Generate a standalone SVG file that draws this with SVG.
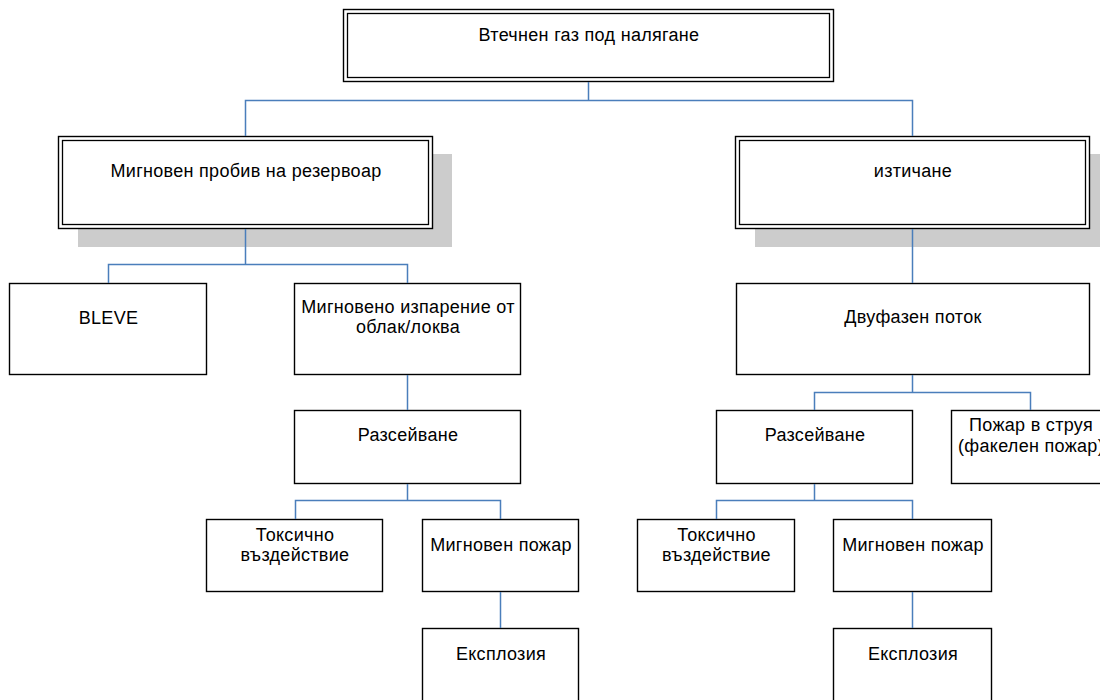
<svg xmlns="http://www.w3.org/2000/svg" width="1100" height="700" viewBox="0 0 1100 700">
<style>
.box{fill:#ffffff;stroke:#000000;stroke-width:1.4}
.dbl{fill:none;stroke:#000000;stroke-width:1.3}
.shadow{fill:#cccccc;stroke:none}
.lbl{font-family:"Liberation Sans",Arial,sans-serif;font-size:18px;letter-spacing:0.3px;fill:#000000;text-anchor:middle}
.conn{fill:none;stroke:#4a7ebb;stroke-width:1.5}
</style>
<rect width="1100" height="700" fill="#ffffff"/>
<g id="n-root">
<rect class="box" x="343.5" y="9.5" width="490" height="72"/>
<rect class="dbl" x="347.5" y="13.5" width="482" height="64"/>
<text class="lbl" x="589" y="41">Втечнен газ под налягане</text>
</g>
<g id="n-instant">
<rect class="shadow" x="78" y="154" width="374" height="93"/>
<rect class="box" x="58.5" y="136.5" width="374" height="92"/>
<rect class="dbl" x="62.5" y="140.5" width="366" height="84"/>
<text class="lbl" x="246" y="177">Мигновен пробив на резервоар</text>
</g>
<g id="n-leak">
<rect class="shadow" x="755" y="154" width="360" height="93"/>
<rect class="box" x="735.5" y="136.5" width="354" height="92"/>
<rect class="dbl" x="739.5" y="140.5" width="346" height="84"/>
<text class="lbl" x="913" y="177">изтичане</text>
</g>
<g id="n-bleve">
<rect class="box" x="9.5" y="283.5" width="197" height="91"/>
<text class="lbl" x="108.5" y="324">BLEVE</text>
</g>
<g id="n-flash-evap">
<rect class="box" x="294.5" y="283.5" width="226" height="91"/>
<text class="lbl" x="408" y="313">Мигновено изпарение от</text>
<text class="lbl" x="408" y="333">облак/локва</text>
</g>
<g id="n-twophase">
<rect class="box" x="736.5" y="283.5" width="353" height="91"/>
<text class="lbl" x="913" y="323">Двуфазен поток</text>
</g>
<g id="n-disp-l">
<rect class="box" x="294.5" y="410.5" width="226" height="73"/>
<text class="lbl" x="408" y="441">Разсейване</text>
</g>
<g id="n-disp-r">
<rect class="box" x="716.5" y="410.5" width="196" height="73"/>
<text class="lbl" x="815" y="441">Разсейване</text>
</g>
<g id="n-jetfire">
<rect class="box" x="951.5" y="410.5" width="158" height="73"/>
<text class="lbl" x="1031" y="431">Пожар в струя</text>
<text class="lbl" x="1031" y="452">(факелен пожар)</text>
</g>
<g id="n-tox-l">
<rect class="box" x="206.5" y="519.5" width="176" height="72"/>
<text class="lbl" x="295" y="541">Токсично</text>
<text class="lbl" x="295" y="561">въздействие</text>
</g>
<g id="n-fire-l">
<rect class="box" x="422.5" y="519.5" width="156" height="72"/>
<text class="lbl" x="501" y="551">Мигновен пожар</text>
</g>
<g id="n-expl-l">
<rect class="box" x="422.5" y="628.5" width="156" height="80"/>
<text class="lbl" x="501" y="660">Експлозия</text>
</g>
<g id="n-tox-r">
<rect class="box" x="637.5" y="519.5" width="157" height="72"/>
<text class="lbl" x="716.5" y="541">Токсично</text>
<text class="lbl" x="716.5" y="561">въздействие</text>
</g>
<g id="n-fire-r">
<rect class="box" x="833.5" y="519.5" width="158" height="72"/>
<text class="lbl" x="913" y="551">Мигновен пожар</text>
</g>
<g id="n-expl-r">
<rect class="box" x="833.5" y="628.5" width="158" height="80"/>
<text class="lbl" x="913" y="660">Експлозия</text>
</g>
<g id="connectors">
<path class="conn" d="M588.5 82 V100.5 M245.5 136 V100.5 H912.5 V136"/>
<path class="conn" d="M245.5 229 V264.5 M108.5 283 V264.5 H407.5 V283"/>
<path class="conn" d="M912.5 229 V283"/>
<path class="conn" d="M407.5 375 V410"/>
<path class="conn" d="M912.5 375 V392.5 M814.5 410 V392.5 H1030.5 V410"/>
<path class="conn" d="M407.5 484 V500.5 M295.5 519 V500.5 H500.5 V519"/>
<path class="conn" d="M500.5 592 V628"/>
<path class="conn" d="M814.5 484 V500.5 M716.5 519 V500.5 H912.5 V519"/>
<path class="conn" d="M912.5 592 V628"/>
</g>
</svg>
